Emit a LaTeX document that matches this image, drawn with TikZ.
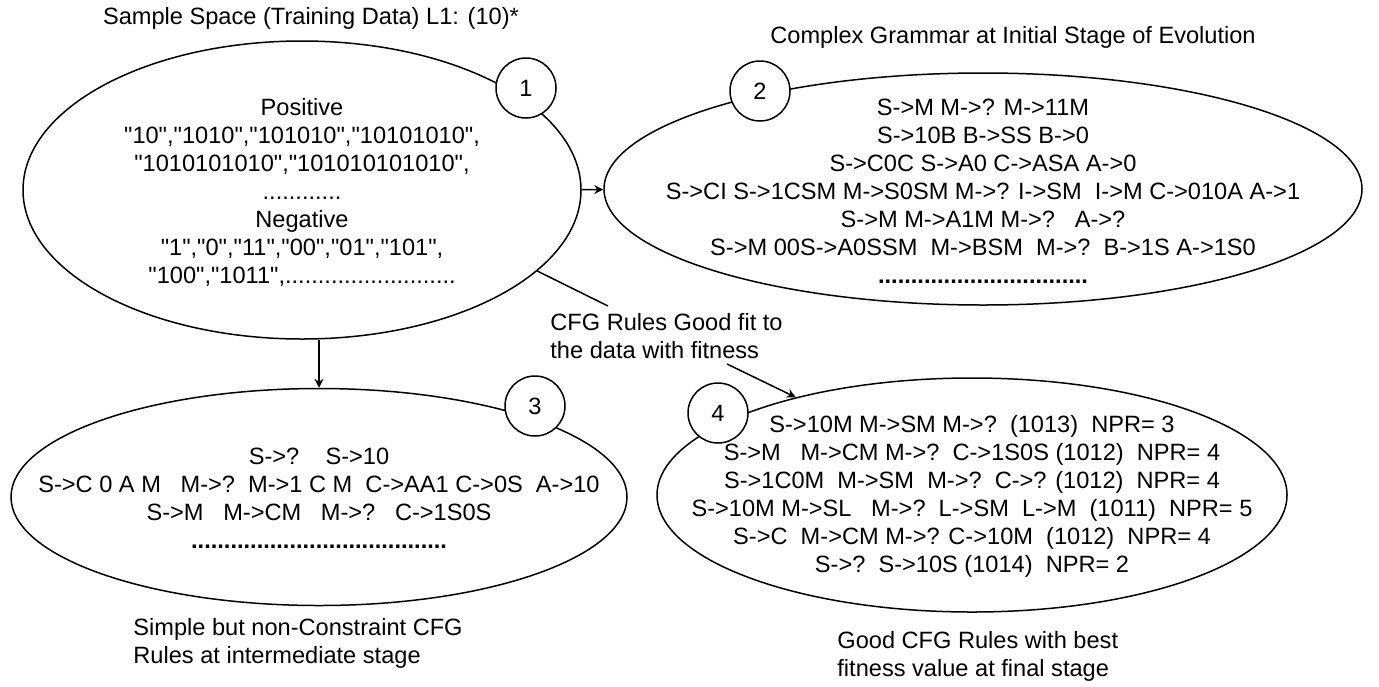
\documentclass[tikz,border=0pt]{standalone}
\usepackage{fontspec}
\setmainfont{Liberation Sans}
\usetikzlibrary{shapes.geometric,positioning,arrows.meta}
\newcommand{\dq}{\textquotedbl}

\begin{document}
\begin{tikzpicture}[x=0.5pt,y=-0.5pt,line width=0.75pt,
   >={Stealth[length=4.5pt,width=4.5pt,inset=1.5pt]},
   font=\fontsize{11.8}{14}\selectfont,
   stage/.style={ellipse,draw,inner sep=0pt},
   num/.style={circle,draw,fill=white,minimum size=30pt,inner sep=0pt},
   txt/.style={align=center},
   note/.style={align=left,anchor=west}]
   \useasboundingbox (0,0) rectangle (1379,686);
   \node[stage,minimum width=279pt,minimum height=149pt] (s1) at (302,190) {};
   \node[stage,minimum width=379pt,minimum height=116pt] (s2) at (983,189) {};
   \node[stage,minimum width=308pt,minimum height=108.5pt] (s3) at (319,497) {};
   \node[stage,minimum width=315pt,minimum height=117pt] (s4) at (972,495) {};
   \node[num] (n1) at (526,88) {1};
   \node[num] (n2) at (760,91) {2};
   \node[num] (n3) at (535,406) {3};
   \node[num] (n4) at (718,413) {4};
   \node[txt] (t1) at (302,192) {Positive\\
      \dq10\dq,\dq1010\dq,\dq101010\dq,\dq10101010\dq,\\
      \dq1010101010\dq,\dq101010101010\dq,\\
      ............\\
      Negative\\
      \dq1\dq,\dq0\dq,\dq11\dq,\dq00\dq,\dq01\dq,\dq101\dq,\\
      \dq100\dq,\dq1011\dq,..........................};
   \node[txt] (t2) at (983,191) {S->M M->? M->11M\\
      S->10B B->SS B->0\\
      S->C0C S->A0 C->ASA A->0\\
      S->CI S->1CSM M->S0SM M->? I->SM~~I->M C->010A A->1\\
      S->M M->A1M M->?~~~A->?\\
      S->M 00S->A0SSM~~M->BSM~~M->?~~B->1S A->1S0\\
      \textbf{................................}};
   \node[txt] (t3) at (319,498) {S->?~~~~S->10\\
      S->C 0 A M~~~M->?~~M->1 C M~~C->AA1 C->0S~~A->10\\
      S->M~~~M->CM~~~M->?~~~C->1S0S\\
      \textbf{.......................................}};
   \node[txt] (t4) at (972,496) {S->10M M->SM M->?~~(1013)~~NPR= 3\\
      S->M~~~M->CM M->?~~C->1S0S (1012)~~NPR= 4\\
      S->1C0M~~M->SM~~M->?~~C->? (1012)~~NPR= 4\\
      S->10M M->SL~~~M->?~~L->SM~~L->M~~(1011)~~NPR= 5\\
      S->C~~M->CM M->? C->10M~~(1012)~~NPR= 4\\
      S->?~~S->10S (1014)~~NPR= 2};
   % captions
   \node (h1) at (311,18) {Sample Space (Training Data) L1: (10)*};
   \node (h2) at (1013,37) {Complex Grammar at Initial Stage of Evolution};
   \node[note] (h3) at (126,643) {Simple but non-Constraint CFG\\Rules at intermediate stage};
   \node[note] (h4) at (830,656) {Good CFG Rules with best\\fitness value at final stage};
   \node[note] (fit) at (543,336) {CFG Rules Good fit to\\the data with fitness};
   \coordinate (fitin) at (608,306);
   \coordinate (fitout) at (727,364);
   \draw[->] (s1) -- (s2);
   \draw[->] (s3.north |- s1.south) -- (s3.north);
   \draw (s1.-19) -- (fitin);
   \draw[->] (fitout) -- (s4.151);
\end{tikzpicture}
\end{document}
